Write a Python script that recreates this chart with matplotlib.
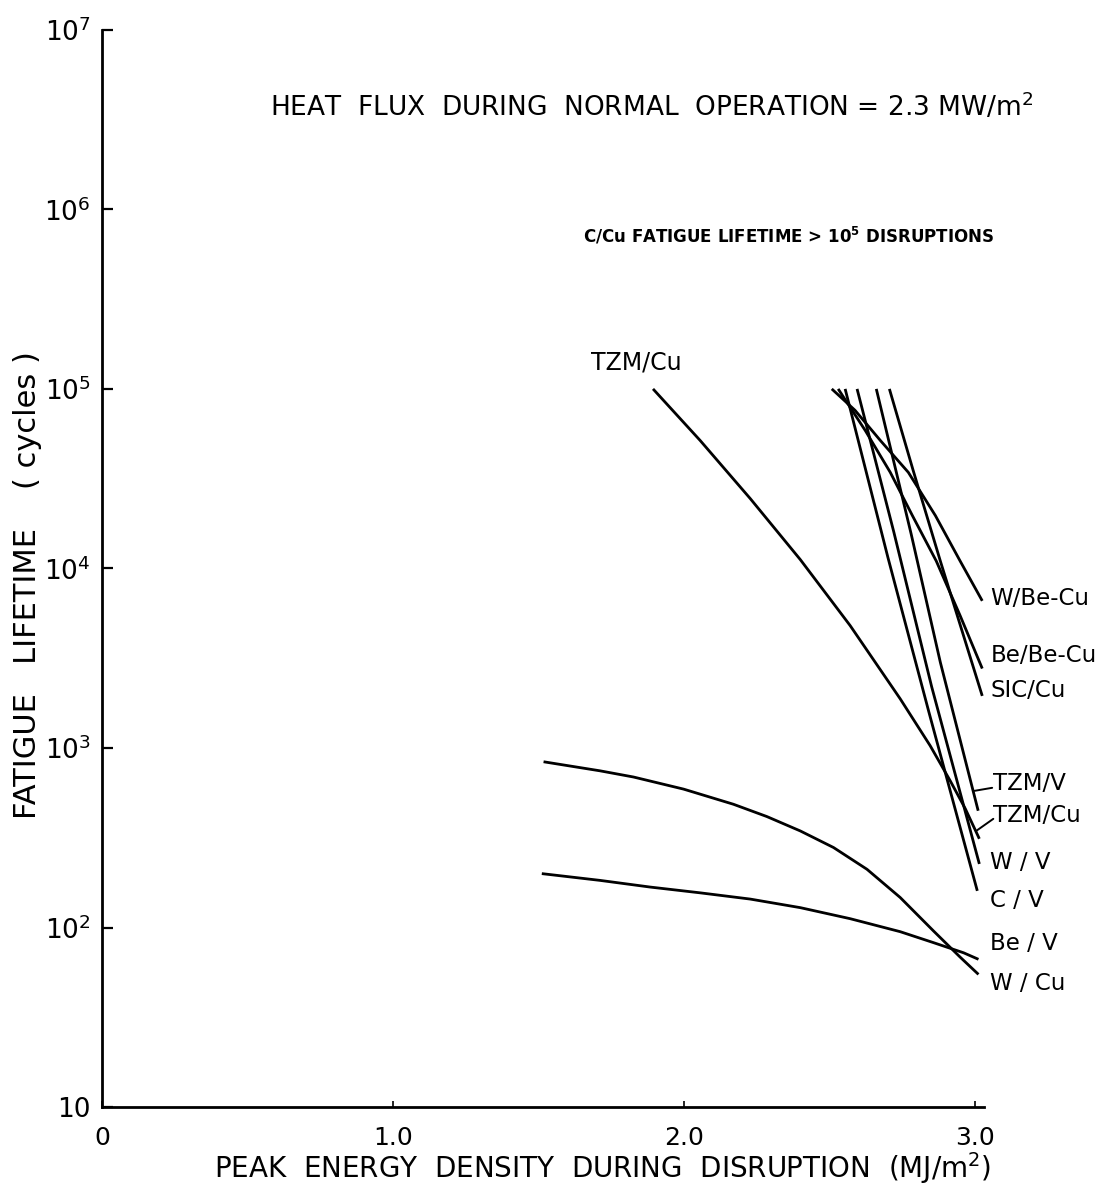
import matplotlib
matplotlib.use("Agg")
import matplotlib.pyplot as plt
from matplotlib.ticker import NullLocator

# peak energy density (MJ/m2) vs fatigue lifetime (cycles)
tzm_cu_x = [1.893, 2.055, 2.227, 2.399, 2.570, 2.742, 2.845, 2.914, 2.966, 3.014]
tzm_cu_y = [1.0e5, 5.16e4, 2.45e4, 1.12e4, 4.81e3, 1.88e3, 1.03e3, 656, 458, 312]

w_becu_x = [2.507, 2.587, 2.674, 2.770, 2.863, 2.948, 3.024]
w_becu_y = [1.0e5, 7.6e4, 5.16e4, 3.43e4, 1.97e4, 1.1e4, 6.6e3]

be_becu_x = [2.529, 2.622, 2.708, 2.784, 2.866, 2.948, 3.024]
be_becu_y = [1.0e5, 5.87e4, 3.43e4, 1.97e4, 1.1e4, 5.46e3, 2.77e3]

sic_cu_x = [2.705, 2.787, 2.880, 3.024]
sic_cu_y = [1.0e5, 3.5e4, 1.1e4, 1.95e3]

tzm_v_x = [2.660, 2.780, 2.880, 3.010]
tzm_v_y = [1.0e5, 1.55e4, 3.0e3, 447]

w_v_x = [2.594, 2.720, 2.850, 3.014]
w_v_y = [1.0e5, 1.6e4, 2.2e3, 226]

c_v_x = [2.553, 2.700, 2.840, 3.007]
c_v_y = [1.0e5, 1.15e4, 1.6e3, 160]

w_cu_x = [1.517, 1.711, 1.826, 1.998, 2.169, 2.284, 2.399, 2.513, 2.628, 2.742, 2.857, 2.948, 3.011]
w_cu_y = [838, 746, 689, 590, 486, 415, 345, 279, 211, 147, 95.5, 68.4, 54.8]

be_v_x = [1.511, 1.711, 1.883, 2.055, 2.227, 2.399, 2.570, 2.742, 2.857, 2.960, 3.011]
be_v_y = [199.6, 183, 168, 156, 144, 129, 112, 94.8, 82.3, 72.3, 66.5]

yticks = [10, 1e2, 1e3, 1e4, 1e5, 1e6, 1e7]
ytick_labels = ["10", r"$10^{2}$", r"$10^{3}$", r"$10^{4}$", r"$10^{5}$", r"$10^{6}$", r"$10^{7}$"]
xticks = [0, 1.0, 2.0, 3.0]
xtick_labels = ["0", "1.0", "2.0", "3.0"]

fig = plt.figure(figsize=(11.13, 11.99), dpi=100)
ax = fig.add_axes([0.0916, 0.0767, 0.7925, 0.8984])

lw = 2.0
for xs, ys in [(tzm_cu_x, tzm_cu_y), (w_becu_x, w_becu_y), (be_becu_x, be_becu_y),
               (sic_cu_x, sic_cu_y), (tzm_v_x, tzm_v_y), (w_v_x, w_v_y),
               (c_v_x, c_v_y), (w_cu_x, w_cu_y), (be_v_x, be_v_y)]:
    ax.plot(xs, ys, color="black", lw=lw, solid_capstyle="butt",
            solid_joinstyle="round", clip_on=False)

ax.set_yscale("log")
ax.set_xlim(0, 3.03)
ax.set_ylim(10, 1e7)
ax.set_yticks(yticks)
ax.set_yticklabels(ytick_labels)
ax.yaxis.set_minor_locator(NullLocator())
ax.set_xticks(xticks)
ax.set_xticklabels(xtick_labels)

ax.spines["top"].set_visible(False)
ax.spines["right"].set_visible(False)
ax.spines["left"].set_linewidth(2)
ax.spines["bottom"].set_linewidth(2)
ax.tick_params(axis="y", direction="in", length=8, width=1.6, pad=8, labelsize=19)
ax.tick_params(axis="x", direction="in", length=4, width=1.2, pad=14, labelsize=18)

ax.set_xlabel("PEAK  ENERGY  DENSITY  DURING  DISRUPTION  (MJ/m$^{2}$)", fontsize=20)
ax.xaxis.label.set_va("center")
ax.xaxis.set_label_coords(0.568, -0.0566)
ax.set_ylabel("FATIGUE   LIFETIME    ( cycles )", fontsize=22)
ax.yaxis.label.set_va("center")
ax.yaxis.set_label_coords(-0.0839, 0.4847)

ax.text(0.19, 0.9285, "HEAT  FLUX  DURING  NORMAL  OPERATION = 2.3 MW/m$^{2}$",
        transform=ax.transAxes, fontsize=19, va="center", ha="left")
ax.text(0.545, 0.8087, "C/Cu FATIGUE LIFETIME > 10$^{\\mathbf{5}}$ DISRUPTIONS",
        transform=ax.transAxes, fontsize=12, fontweight="bold", va="center", ha="left")

ax.text(1.835, 1.41e5, "TZM/Cu", fontsize=17, ha="center", va="center")

lab = dict(fontsize=16.5, ha="left", va="center", clip_on=False)
ax.text(3.052, 6.8e3, "W/Be-Cu", **lab)
ax.text(3.052, 3.27e3, "Be/Be-Cu", **lab)
ax.text(3.052, 2.08e3, "SIC/Cu", **lab)
ax.text(3.060, 631, "TZM/V", **lab)
ax.text(3.062, 419, "TZM/Cu", **lab)
ax.text(3.052, 229, "W / V", **lab)
ax.text(3.052, 141, "C / V", **lab)
ax.text(3.052, 81, "Be / V", **lab)
ax.text(3.052, 49, "W / Cu", **lab)

# leader strokes for the two crowded labels
ax.annotate("", xy=(2.997, 577), xytext=(3.058, 600),
            arrowprops=dict(arrowstyle="-", color="black", lw=1.4, shrinkA=0, shrinkB=0))
ax.annotate("", xy=(3.003, 345), xytext=(3.062, 403),
            arrowprops=dict(arrowstyle="-", color="black", lw=1.4, shrinkA=0, shrinkB=0))

fig.savefig("out.png", dpi=100)
